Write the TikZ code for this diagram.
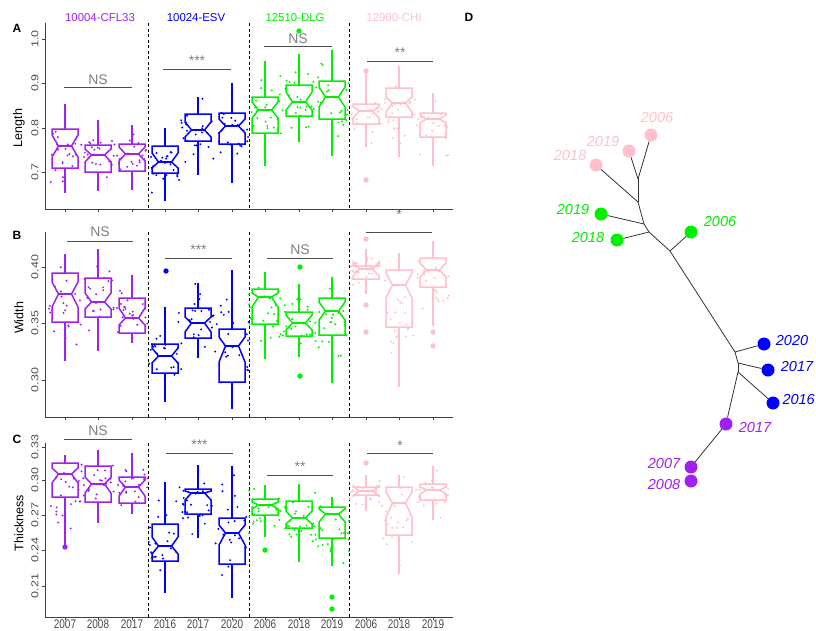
\documentclass[tikz,border=0pt]{standalone}
\usepackage{graphicx}
\usepackage{fontspec}
\setmainfont{Liberation Sans}
\definecolor{cpur}{HTML}{A020F0}
\definecolor{cblu}{HTML}{0000FF}
\definecolor{cgrn}{HTML}{00F000}
\definecolor{cpnk}{HTML}{FFC0CB}
\newcommand\hsq[1]{\scalebox{0.8}[1]{#1}}
\newcommand\vsq[1]{\scalebox{1}[0.8]{#1}}
\newcommand\nbox[9]{%
  \draw[#1, whisk] (#2,#3) -- (#2,#8);
  \draw[#1, whisk] (#2,#7) -- (#2,#9);
  \draw[#1, boxl, fill=white] (#2-13,#3) -- (#2-13,#4) -- (#2-6.5,#5) -- (#2-13,#6) -- (#2-13,#7) -- (#2+13,#7) -- (#2+13,#6) -- (#2+6.5,#5) -- (#2+13,#4) -- (#2+13,#3) -- cycle;
  \draw[#1, medl] (#2-6.5,#5) -- (#2+6.5,#5);
}
\newcommand\jit[5]{%
  \foreach \k in {1,...,#5}{%
    \pgfmathsetmacro\px{#2+34*(rnd-0.5)}%
    \pgfmathsetmacro\py{#3+(#4-#3)*(rnd+rnd+rnd)/3}%
    \fill[#1] (\px,\py) circle (1.1pt);
  }%
}
\newcommand\outl[3]{\fill[#1] (#2,#3) circle (2.7pt);}
\tikzset{
  boxl/.style={line width=1.5pt, line join=miter},
  whisk/.style={line width=1.5pt},
  medl/.style={line width=2.8pt},
  vdash/.style={dash pattern=on 3pt off 2.5pt, line width=0.8pt, draw=black},
  axisl/.style={line width=0.9pt, draw=black!75},
  tickl/.style={line width=0.9pt, draw=black!75},
  ticklab/.style={font=\fontsize{12.5}{14}\selectfont, text=black!70, inner sep=0pt},
  atitle/.style={font=\fontsize{12.5}{14}\selectfont, text=black, inner sep=0pt},
  plab/.style={font=\fontsize{12}{14}\selectfont\bfseries, text=black, inner sep=0pt},
  hdr/.style={font=\fontsize{11.4}{13}\selectfont, inner sep=0pt},
  sigl/.style={line width=1pt, draw=black!70},
  sigt/.style={font=\fontsize{14}{16}\selectfont, text=black!50, inner sep=0pt},
  tc/.style={circle, minimum size=13pt, inner sep=0pt, draw=none},
  tlab/.style={font=\fontsize{14.5}{16}\selectfont\itshape, inner sep=0pt},
  edge/.style={line width=0.8pt, draw=black!80},
}
\begin{document}
\begin{tikzpicture}[x=1pt,y=-1pt]
\useasboundingbox (0,0) rectangle (816,630);
\pgfmathsetseed{2024}
% headers
\node[hdr, text=cpur] (h1) at (100,18) {10004-CFL33};
\node[hdr, text=cblu] (h2) at (196,18) {10024-ESV};
\node[hdr, text=cgrn] (h3) at (295,18) {12510-DLG};
\node[hdr, text=cpnk] (h4) at (394,18) {12900-CHI};
% panel letters
\node[plab] (pA) at (17,28) {A};
\node[plab] (pB) at (17,235) {B};
\node[plab] (pC) at (17,439) {C};
\node[plab] (pD) at (469,17) {D};
% axis titles
\node[atitle, rotate=90] (tA) at (19,128) {Length};
\node[atitle, rotate=90] (tB) at (19,318) {Width};
\node[atitle, rotate=90] (tC) at (19,523) {Thickness};
% axes
\foreach \t/\b in {23/209, 232/417, 443/617}{
  \draw[axisl] (45,\t) -- (45,\b) -- (453,\b);
  \foreach \x in {65,98,132,165,198,232,265,299,332,366,399,433}
    \draw[tickl] (\x,\b) -- (\x,\b+3);
  \foreach \x in {148,249,349}
    \draw[vdash] (\x,\t) -- (\x,\b);
}
\foreach \v/\y in {1.0/39, 0.9/83, 0.8/128, 0.7/172, 0.40/267, 0.35/323, 0.30/380, 0.33/447, 0.30/480, 0.27/515, 0.24/550, 0.21/586}{
  \draw[tickl] (42,\y) -- (45,\y);
  \node[ticklab, rotate=90] (yl\y) at (35,\y) {\vsq{\v}};
}
\foreach \x/\l in {65/2007,98/2008,132/2017,165/2016,198/2017,232/2020,265/2006,299/2018,332/2019,366/2006,399/2018,433/2019}
  \node[ticklab] (xl\x) at (\x,624.5) {\hsq{\l}};
% ================= Panel A
\nbox{cpur}{65}{129}{135}{146}{157}{168}{104}{193}
\nbox{cpur}{98}{145}{149}{155}{162}{172}{120}{191}
\nbox{cpur}{132}{144}{147}{154}{161}{171}{125}{190}
\nbox{cblu}{165}{146}{153}{162}{168}{173}{128}{201}
\nbox{cblu}{198}{114}{122}{130}{137}{141}{97}{175}
\nbox{cblu}{232}{113}{119}{126}{133}{144}{83}{183}
\nbox{cgrn}{265}{97}{102}{110}{118}{133}{61}{166}
\nbox{cgrn}{299}{85}{92}{102}{110}{116}{54}{142}
\nbox{cgrn}{332}{81}{87}{97}{107}{119}{50}{156}
\nbox{cpnk}{366}{104}{107}{111}{118}{124}{72}{147}
\nbox{cpnk}{399}{88}{97}{103}{112}{117}{66}{157}
\nbox{cpnk}{433}{113}{115}{119}{123}{137}{93}{166}
\jit{cpur}{65}{112}{196}{22}
\jit{cpur}{98}{122}{192}{22}
\jit{cpur}{132}{124}{190}{22}
\jit{cblu}{165}{124}{204}{22}
\jit{cblu}{198}{95}{178}{22}
\jit{cblu}{232}{82}{186}{22}
\jit{cgrn}{265}{58}{168}{22}
\jit{cgrn}{299}{52}{145}{22}
\jit{cgrn}{332}{46}{158}{22}
\jit{cpnk}{366}{80}{150}{22}
\jit{cpnk}{399}{62}{160}{22}
\jit{cpnk}{433}{90}{168}{22}
\outl{cgrn}{299}{31}
\outl{cpnk}{366}{71}
\outl{cpnk}{366}{180}
% ================= Panel B
\nbox{cpur}{65}{273}{282}{294}{307}{322}{254}{361}
\nbox{cpur}{98}{278}{293}{302}{309}{317}{249}{351}
\nbox{cpur}{132}{298}{308}{318}{325}{333}{275}{343}
\nbox{cblu}{165}{344}{348}{356}{363}{373}{307}{402}
\nbox{cblu}{198}{308}{317}{323}{332}{338}{283}{358}
\nbox{cblu}{232}{329}{337}{346}{362}{382}{270}{409}
\nbox{cgrn}{265}{289}{293}{297}{307}{324}{272}{359}
\nbox{cgrn}{299}{312}{315}{323}{330}{336}{284}{357}
\nbox{cgrn}{332}{298}{302}{311}{320}{335}{277}{383}
\nbox{cpnk}{366}{266}{262}{269}{276}{279}{249}{294}
\nbox{cpnk}{399}{270}{273}{285}{298}{327}{253}{387}
\nbox{cpnk}{433}{258}{263}{270}{277}{287}{241}{326}
\jit{cpur}{65}{252}{362}{22}
\jit{cpur}{98}{248}{352}{22}
\jit{cpur}{132}{272}{344}{22}
\jit{cblu}{165}{300}{395}{22}
\jit{cblu}{198}{280}{358}{22}
\jit{cblu}{232}{268}{410}{22}
\jit{cgrn}{265}{270}{358}{22}
\jit{cgrn}{299}{282}{356}{22}
\jit{cgrn}{332}{275}{385}{22}
\jit{cpnk}{366}{248}{296}{22}
\jit{cpnk}{399}{250}{390}{22}
\jit{cpnk}{433}{240}{328}{22}
\outl{cblu}{166}{271}
\outl{cgrn}{300}{267}
\outl{cgrn}{300}{376}
\outl{cpnk}{366}{239}
\outl{cpnk}{366}{305}
\outl{cpnk}{366}{332}
\outl{cpnk}{433}{332}
\outl{cpnk}{433}{346}
% ================= Panel C
\nbox{cpur}{65}{463}{468}{474}{483}{497}{455}{547}
\nbox{cpur}{98}{466}{477}{484}{493}{502}{450}{523}
\nbox{cpur}{132}{477}{480}{487}{496}{503}{453}{514}
\nbox{cblu}{165}{524}{537}{546}{554}{561}{482}{593}
\nbox{cblu}{198}{489}{491}{493}{500}{514}{465}{538}
\nbox{cblu}{232}{518}{525}{533}{545}{564}{466}{598}
\nbox{cgrn}{265}{499}{502}{505}{509}{515}{485}{537}
\nbox{cgrn}{299}{501}{511}{518}{524}{528}{484}{562}
\nbox{cgrn}{332}{507}{509}{514}{522}{538}{497}{566}
\nbox{cpnk}{366}{487}{486}{491}{496}{495}{475}{511}
\nbox{cpnk}{399}{487}{492}{503}{517}{535}{475}{574}
\nbox{cpnk}{433}{484}{487}{490}{494}{500}{466}{520}
\jit{cpur}{65}{452}{550}{22}
\jit{cpur}{98}{448}{524}{22}
\jit{cpur}{132}{451}{515}{22}
\jit{cblu}{165}{480}{596}{22}
\jit{cblu}{198}{463}{540}{22}
\jit{cblu}{232}{463}{600}{22}
\jit{cgrn}{265}{482}{540}{22}
\jit{cgrn}{299}{482}{563}{22}
\jit{cgrn}{332}{494}{568}{22}
\jit{cpnk}{366}{472}{514}{22}
\jit{cpnk}{399}{472}{576}{22}
\jit{cpnk}{433}{464}{522}{22}
\outl{cpur}{65}{547}
\outl{cgrn}{265}{550}
\outl{cgrn}{332}{597}
\outl{cgrn}{332}{609}
\outl{cpnk}{366}{463}
% ================= significance bars
\foreach \a/\b/\y/\ty/\t/\n in {
  64/132/87/80/NS/a1, 163/231/69/61/***/a2, 264/332/46/39/NS/a3, 367/433/61/53/**/a4,
  67/133/241/232/NS/b1, 165/232/258/250/***/b2, 267/333/258/250/NS/b3, 366/432/232/215/*/b4,
  64/132/439/431/NS/c1, 166/233/453/445/***/c2, 267/333/475/467/**/c3, 367/433/453/446/*/c4}{
  \draw[sigl] (\a,\y) -- (\b,\y);
  \node[sigt] (s\n) at ({(\a+\b)/2},\ty) {\t};
}
% ================= Tree D
\coordinate (a1) at (638,179);
\coordinate (a2) at (638,202);
\coordinate (a3) at (644,224);
\coordinate (a4) at (649,232);
\coordinate (a5) at (670,251);
\coordinate (a6) at (735,352);
\coordinate (a7) at (738,363);
\coordinate (a8) at (738,372);
\node[tc, fill=cpnk] (p06) at (651,135) {};
\node[tc, fill=cpnk] (p19) at (629,151) {};
\node[tc, fill=cpnk] (p18) at (596,165) {};
\node[tc, fill=cgrn] (g19) at (601,214) {};
\node[tc, fill=cgrn] (g18) at (617,240) {};
\node[tc, fill=cgrn] (g06) at (691,232) {};
\node[tc, fill=cblu] (b20) at (764,344) {};
\node[tc, fill=cblu] (b17) at (768,370) {};
\node[tc, fill=cblu] (b16) at (773,403) {};
\node[tc, fill=cpur] (u17) at (726,424) {};
\node[tc, fill=cpur] (u07) at (691,467) {};
\node[tc, fill=cpur] (u08) at (691,481) {};
\draw[edge] (a1) -- (p06);
\draw[edge] (a1) -- (p19);
\draw[edge] (a2) -- (a1);
\draw[edge] (a2) -- (p18);
\draw[edge] (a3) -- (a2);
\draw[edge] (a3) -- (g19);
\draw[edge] (a4) -- (a3);
\draw[edge] (a4) -- (g18);
\draw[edge] (a5) -- (a4);
\draw[edge] (a5) -- (g06);
\draw[edge] (a6) -- (a5);
\draw[edge] (a6) -- (b20);
\draw[edge] (a7) -- (a6);
\draw[edge] (a7) -- (b17);
\draw[edge] (a8) -- (a7);
\draw[edge] (a8) -- (b16);
\draw[edge] (a8) -- (u17);
\draw[edge] (u17) -- (u07);
\node[tlab, text=cpnk] (lp06) at (657,118) {2006};
\node[tlab, text=cpnk] (lp19) at (603,142) {2019};
\node[tlab, text=cpnk] (lp18) at (570,156) {2018};
\node[tlab, text=cgrn] (lg19) at (573,210) {2019};
\node[tlab, text=cgrn] (lg18) at (588,238) {2018};
\node[tlab, text=cgrn] (lg06) at (720,222) {2006};
\node[tlab, text=cblu] (lb20) at (792,340) {2020};
\node[tlab, text=cblu] (lb17) at (797,366) {2017};
\node[tlab, text=cblu, anchor=east] (lb16) at (815,399) {2016};
\node[tlab, text=cpur] (lu17) at (755,427) {2017};
\node[tlab, text=cpur] (lu07) at (664,463) {2007};
\node[tlab, text=cpur] (lu08) at (664,484) {2008};
\end{tikzpicture}
\end{document}
